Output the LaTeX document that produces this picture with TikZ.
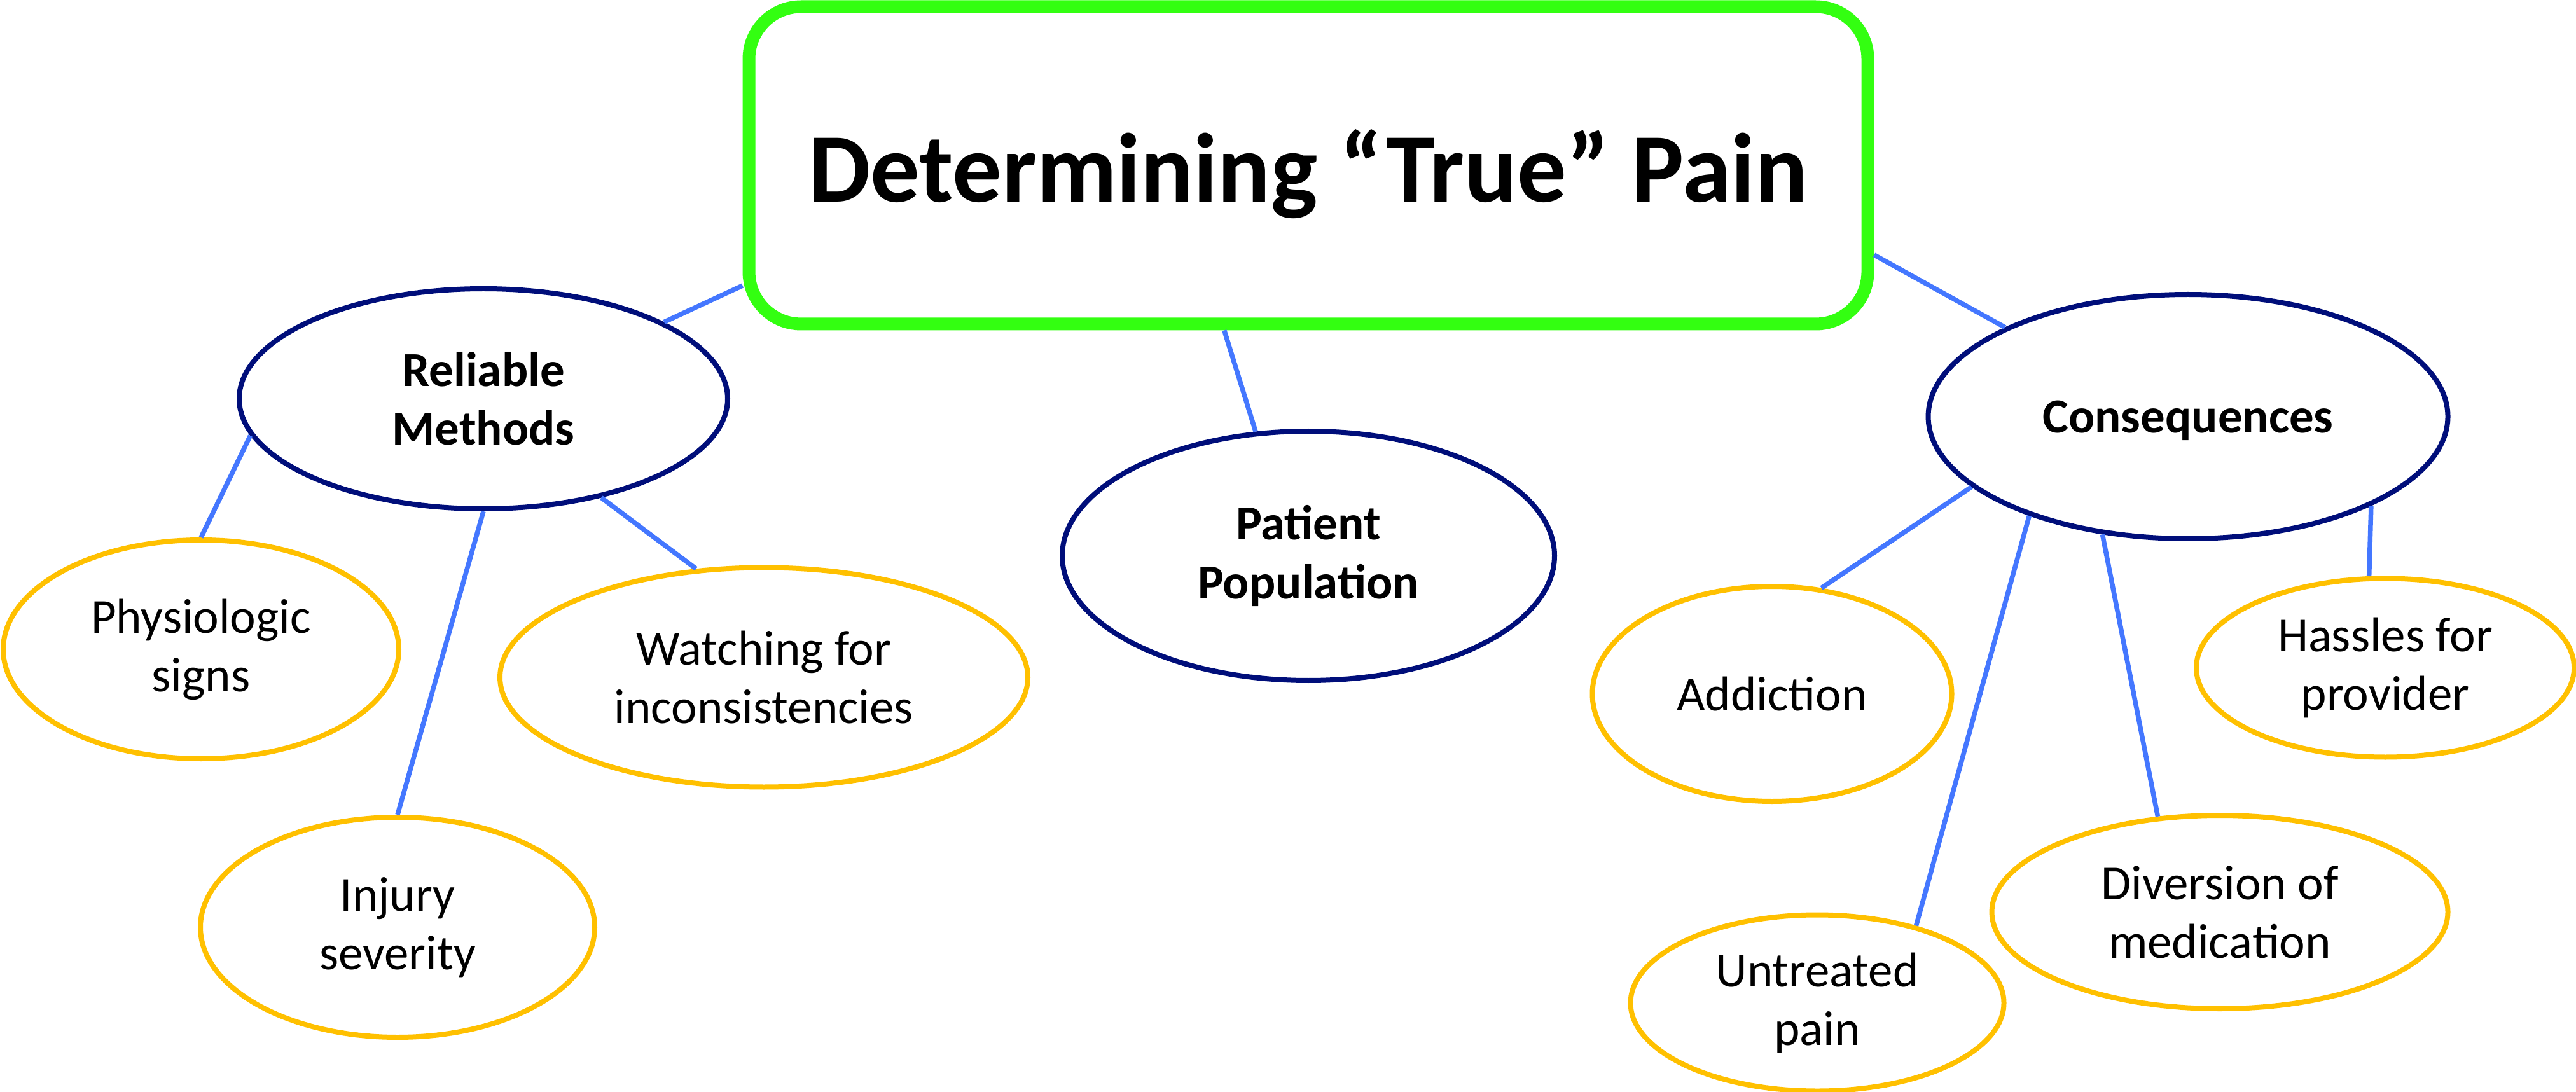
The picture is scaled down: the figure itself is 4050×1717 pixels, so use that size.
\documentclass[tikz,border=0pt]{standalone}
\usepackage{fontspec}
\setmainfont{Carlito}
\usepackage{xcolor}
\usepackage{tikz}
\usetikzlibrary{shapes.geometric}

\definecolor{titlegreen}{RGB}{51,255,17}
\definecolor{topicnavy}{RGB}{0,14,122}
\definecolor{leafgold}{RGB}{255,192,0}
\definecolor{linkblue}{RGB}{68,119,255}

\begin{document}
\begin{tikzpicture}[x=0.1mm, y=-0.1mm,
    every node/.append style={font=\fontsize{21.9}{26.2}\selectfont, inner sep=0pt, align=center},
    titlebox/.style={draw=titlegreen, line width=2mm, rounded corners=8.2mm, minimum width=175.9mm, minimum height=49.9mm, font=\fontsize{44}{53}\selectfont\bfseries, text depth=0pt},
    topic/.style={ellipse, draw=topicnavy, line width=0.8mm, font=\fontsize{21.9}{26.2}\selectfont\bfseries},
    leaf/.style={ellipse, draw=leafgold, line width=0.8mm},
    link/.style={draw=linkblue, line width=0.75mm},
]
\useasboundingbox (0,0) rectangle (4050,1717);

\node[titlebox] (title) at (2057,260) {Determining “True” Pain};

% left branch
\node[topic, minimum width=76.8mm, minimum height=34.6mm] (relm) at (760,627) {Reliable\\Methods};
\node[leaf, minimum width=62.2mm, minimum height=34.4mm] (physio) at (316,1021) {Physiologic\\signs};
\node[leaf, minimum width=83.0mm, minimum height=34.5mm] (watch) at (1201,1065) {Watching for\\inconsistencies};
\node[leaf, minimum width=62.0mm, minimum height=34.6mm] (injury) at (625,1458) {Injury\\severity};

% middle
\node[topic, minimum width=77.4mm, minimum height=39.2mm] (patient) at (2057,874) {Patient\\Population};

% right branch
\node[topic, minimum width=81.7mm, minimum height=38.4mm, text depth=0pt] (conseq) at (3440,655) {Consequences};
\node[leaf, minimum width=56.5mm, minimum height=33.8mm] (addict) at (2786,1091) {Addiction};
\node[leaf, minimum width=58.7mm, minimum height=27.7mm] (untreat) at (2857,1577) {Untreated\\pain};
\node[leaf, minimum width=71.7mm, minimum height=30.4mm] (divert) at (3490,1434) {Diversion of\\medication};
\node[leaf, minimum width=59.4mm, minimum height=28.1mm] (hassle) at (3750,1050) {Hassles for\\provider};

\draw[link] (relm.23.7) -- (title.192.6);
\draw[link] (patient.113.4) -- (title.243.2);
\draw[link] (conseq.154.3) -- (title.-9.2);

\draw[link] (physio.north) -- (relm.189.9);
\draw[link] (injury.north) -- (relm.south);
\draw[link] (watch.122) -- (relm.320.7);

\draw[link] (addict.65.8) -- (conseq.198);
\draw[link] (untreat.38.1) -- (conseq.212.6);
\draw[link] (divert.123.8) -- (conseq.234.5);
\draw[link] (hassle.100.2) -- (conseq.334.7);

\end{tikzpicture}
\end{document}
